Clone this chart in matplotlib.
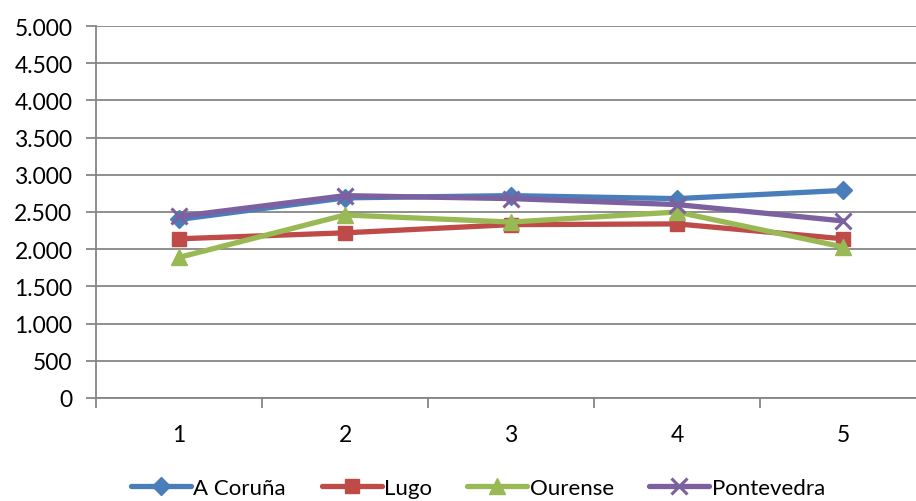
import matplotlib.pyplot as plt

categories = [1, 2, 3, 4, 5]
a_coruna = [2400, 2690, 2720, 2680, 2790]
lugo = [2140, 2220, 2330, 2340, 2140]
ourense = [1890, 2460, 2365, 2500, 2030]
pontevedra = [2440, 2720, 2680, 2600, 2380]

series = [
    ('A Coruña', a_coruna, '#4A7EBB', 'D', 9),
    ('Lugo', lugo, '#BE4B48', 's', 10),
    ('Ourense', ourense, '#98B954', '^', 11),
    ('Pontevedra', pontevedra, '#7D60A0', 'x', 12),
]

plt.rcParams['font.family'] = ['Lato', 'DejaVu Sans']

fig = plt.figure(figsize=(9.16, 5.02), dpi=100)
# plot area extends slightly past the right edge, as in the original
ax = fig.add_axes([96 / 916, 1 - 399 / 502, (926 - 96) / 916, (399 - 27) / 502])

x = list(range(len(categories)))
for name, vals, color, marker, ms in series:
    kw = dict(markeredgewidth=2.2) if marker == 'x' else dict(markeredgecolor=color)
    ax.plot(x, vals, color=color, lw=3.8, marker=marker, ms=ms,
            markerfacecolor=color, label=name, solid_capstyle='round', **kw)

ax.set_xlim(-0.5, len(categories) - 0.5)
ax.set_ylim(0, 5000)
yt = list(range(0, 5001, 500))
ax.set_yticks(yt)
ax.set_yticklabels([f'{v:,}'.replace(',', '.') for v in yt])
ax.set_xticks(x)
ax.set_xticklabels([str(c) for c in categories])
ax.set_xticks([i - 0.5 for i in range(len(categories) + 1)], minor=True)

ax.yaxis.grid(True, color='#868686', lw=1.3)
ax.set_axisbelow(True)
for s in ['top', 'right']:
    ax.spines[s].set_visible(False)
for s in ['left', 'bottom']:
    ax.spines[s].set_color('#868686')
    ax.spines[s].set_linewidth(1.3)

ax.tick_params(axis='y', length=7, width=1.3, color='#868686', labelsize=16.5, pad=10)
ax.tick_params(axis='x', which='major', length=0, labelsize=16.5, pad=19)
ax.tick_params(axis='x', which='minor', length=7, width=1.3, color='#868686')

fig.legend(loc='center', bbox_to_anchor=(478 / 916, 1 - 489 / 502), ncol=4,
           frameon=False, fontsize=16, handlelength=2.7, columnspacing=1.6,
           handletextpad=0.1)

fig.savefig('out.png', dpi=100)
